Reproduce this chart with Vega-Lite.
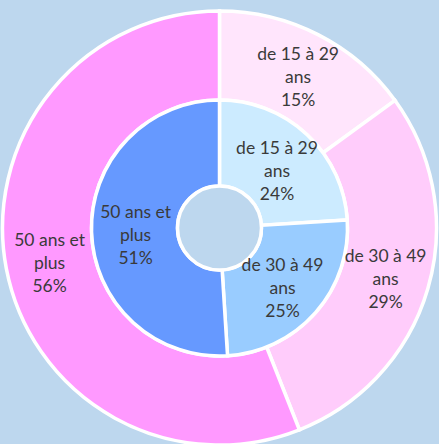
{
  "$schema": "https://vega.github.io/schema/vega-lite/v6.json",
  "width": 439,
  "height": 444,
  "padding": {"top": 12, "bottom": 0, "left": 0, "right": 0},
  "autosize": {"type": "fit", "contains": "padding"},
  "background": "#BDD7EE",
  "config": {
    "view": {
      "stroke": null,
      "fill": {
        "gradient": "linear", "x1": 0, "y1": 0, "x2": 0, "y2": 1,
        "stops": [{"offset": 0, "color": "#BED8EE"}, {"offset": 1, "color": "#D6E3F3"}]
      }
    }
  },
  "datasets": {
    "inner": [
      {"label": "de 15 à 29 ans", "text": ["de 15 à 29", "ans", "24%"], "value": 24, "order": 1, "key": "i1"},
      {"label": "de 30 à 49 ans", "text": ["de 30 à 49", "ans", "25%"], "value": 25, "order": 2, "key": "i2"},
      {"label": "50 ans et plus", "text": ["50 ans et", "plus", "51%"], "value": 51, "order": 3, "key": "i3"}
    ],
    "outer": [
      {"label": "de 15 à 29 ans", "text": ["de 15 à 29", "ans", "15%"], "value": 15, "order": 1, "key": "o1"},
      {"label": "de 30 à 49 ans", "text": ["de 30 à 49", "ans", "29%"], "value": 29, "order": 2, "key": "o2"},
      {"label": "50 ans et plus", "text": ["50 ans et", "plus", "56%"], "value": 56, "order": 3, "key": "o3"}
    ]
  },
  "layer": [
    {
      "data": {"name": "outer"},
      "mark": {"type": "arc", "radius": 217, "radius2": 128, "stroke": "white", "strokeWidth": 3.5},
      "encoding": {
        "theta": {"field": "value", "type": "quantitative", "stack": true, "scale": {"domain": [0, 100]}},
        "order": {"field": "order", "type": "quantitative"},
        "color": {"field": "key", "type": "nominal", "legend": null,
          "scale": {"domain": ["o1", "o2", "o3", "i1", "i2", "i3"], "range": ["#FFE5FC", "#FFCCFB", "#FF99FF", "#CCEBFF", "#99CCFF", "#6699FF"]}}
      }
    },
    {
      "data": {"name": "inner"},
      "mark": {"type": "arc", "radius": 128, "radius2": 42, "stroke": "white", "strokeWidth": 3.5},
      "encoding": {
        "theta": {"field": "value", "type": "quantitative", "stack": true, "scale": {"domain": [0, 100]}},
        "order": {"field": "order", "type": "quantitative"},
        "color": {"field": "key", "type": "nominal", "legend": null}
      }
    },
    {
      "data": {"values": [{}]},
      "mark": {"type": "arc", "theta": 0, "theta2": 6.2832, "radius": 42, "radius2": 0, "fill": "#BDD7EE", "stroke": "white", "strokeWidth": 3.5},
      "encoding": {}
    },
    {
      "data": {"name": "outer"},
      "mark": {"type": "text", "radius": 173, "dy": -19, "font": "Lato", "fontSize": 17.5, "color": "#3A3A3A", "lineHeight": 23, "baseline": "middle", "align": "center"},
      "encoding": {
        "theta": {"field": "value", "type": "quantitative", "stack": true, "scale": {"domain": [0, 100]}},
        "order": {"field": "order", "type": "quantitative"},
        "text": {"field": "text"}
      }
    },
    {
      "data": {"name": "inner"},
      "mark": {"type": "text", "radius": 84, "dy": -18, "font": "Lato", "fontSize": 17.5, "color": "#3A3A3A", "lineHeight": 23, "baseline": "middle", "align": "center"},
      "encoding": {
        "theta": {"field": "value", "type": "quantitative", "stack": true, "scale": {"domain": [0, 100]}},
        "order": {"field": "order", "type": "quantitative"},
        "text": {"field": "text"}
      }
    }
  ]
}
